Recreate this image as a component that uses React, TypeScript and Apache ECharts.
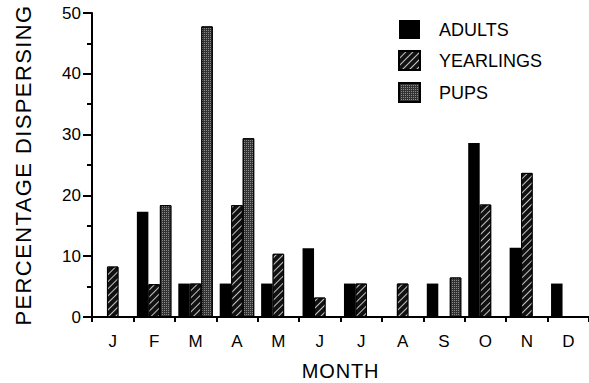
import React, { useEffect, useRef } from "react";
import * as echarts from "echarts";

const months = ["J", "F", "M", "A", "M", "J", "J", "A", "S", "O", "N", "D"];
const adults = [0, 17.3, 5.5, 5.5, 5.5, 11.3, 5.5, 0, 5.5, 28.6, 11.4, 5.5];
const yearlings = [8.3, 5.4, 5.5, 18.4, 10.4, 3.2, 5.5, 5.5, 0, 18.5, 23.7, 0];
const pups = [0, 18.4, 47.8, 29.4, 0, 0, 0, 0, 6.5, 0, 0, 0];
const yTicks = [0, 10, 20, 30, 40, 50];

const FONT = "'Liberation Sans', Arial, Helvetica, sans-serif";
const Y_NAME = "PERCENTAGE DISPERSING";

export default function App() {
  const ref = useRef<HTMLDivElement>(null);
  useEffect(() => {
    if (!ref.current) return;
    const el = ref.current;
    const chart = echarts.init(el, null, { renderer: "svg" });
    const hatch = {
      symbol: "rect",
      symbolSize: 1,
      color: "rgba(255,255,255,0.75)",
      dashArrayX: [1, 0],
      dashArrayY: [1, 3.5],
      rotation: -Math.PI / 4,
    };
    const stipple = {
      symbol: "rect",
      symbolSize: 1,
      color: "rgba(255,255,255,0.42)",
      dashArrayX: [1, 1],
      dashArrayY: [1, 1],
      rotation: 0,
    };
    const spaceText = () => {
      el.querySelectorAll("text").forEach((t) => {
        if (t.textContent === Y_NAME) t.setAttribute("letter-spacing", "1.4");
        if (t.textContent === "MONTH") t.setAttribute("letter-spacing", "0.8");
      });
    };
    chart.on("finished", spaceText);
    chart.setOption({
      animation: false,
      textStyle: { fontFamily: FONT, color: "#000" },
      legend: {
        orient: "vertical",
        left: 398,
        top: 20,
        padding: 0,
        itemWidth: 21,
        itemHeight: 19,
        itemGap: 11,
        icon: "rect",
        textStyle: { fontSize: 18, color: "#000", fontFamily: FONT, padding: [0, 0, 0, 14] },
        data: ["ADULTS", "YEARLINGS", "PUPS"],
      },
      grid: { left: 92, right: 0, top: 13, bottom: 66, outerBoundsMode: "none", containLabel: false },
      xAxis: {
        type: "category",
        data: months,
        name: "MONTH",
        nameLocation: "middle",
        nameGap: 44,
        nameTextStyle: { fontSize: 20, color: "#000", fontFamily: FONT },
        axisLine: { lineStyle: { color: "#000", width: 2 } },
        axisTick: { show: true, length: 5, lineStyle: { color: "#000", width: 2 } },
        axisLabel: { fontSize: 17, color: "#000", margin: 16, fontFamily: FONT },
      },
      yAxis: {
        type: "value",
        min: 0,
        max: 50,
        interval: 10,
        name: Y_NAME,
        nameLocation: "middle",
        nameGap: 58,
        nameTextStyle: { fontSize: 22, color: "#000", fontFamily: FONT },
        axisLine: { show: true, lineStyle: { color: "#000", width: 2 } },
        axisTick: { show: true, length: 9, lineStyle: { color: "#000", width: 2 } },
        minorTick: { show: true, splitNumber: 2, length: 5, lineStyle: { color: "#000", width: 2 } },
        splitLine: { show: false },
        axisLabel: {
          fontSize: 17,
          color: "#000",
          margin: 11,
          fontFamily: FONT,
          formatter: (v: number) => (yTicks.includes(v) ? String(v) : ""),
        },
      },
      series: [
        {
          name: "ADULTS",
          type: "bar",
          data: adults,
          barWidth: 11.5,
          barGap: "0%",
          itemStyle: { color: "#000" },
        },
        {
          name: "YEARLINGS",
          type: "bar",
          data: yearlings,
          barWidth: 11.5,
          barGap: "0%",
          itemStyle: { color: "#111", borderColor: "#000", borderWidth: 1, decal: hatch },
        },
        {
          name: "PUPS",
          type: "bar",
          data: pups,
          barWidth: 11.5,
          barGap: "0%",
          itemStyle: { color: "#333", borderColor: "#000", borderWidth: 1, decal: stipple },
        },
      ],
    });
    spaceText();
    const timer = setTimeout(spaceText, 50);
    return () => {
      clearTimeout(timer);
      chart.dispose();
    };
  }, []);
  return (
    <div
      ref={ref}
      style={{ position: "fixed", left: 0, top: 0, width: 589, height: 383, background: "#fff" }}
    />
  );
}
